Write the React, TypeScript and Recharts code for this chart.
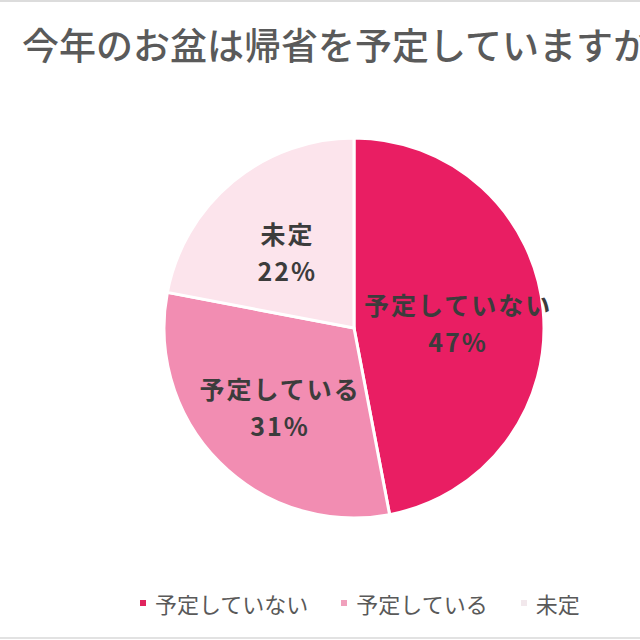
import React from 'react';
import { PieChart, Pie, Cell, Legend } from 'recharts';

const categories = ['予定していない', '予定している', '未定'];
const shares = [47, 31, 22];
const colors = ['#E91E63', '#F28DB2', '#FCE4EC'];
const legendColors = ['#E0245E', '#F0A0BC', '#F2E8EC'];

const title = '今年のお盆は帰省を予定していますか';

const data = categories.map((name, i) => ({ name, value: shares[i] }));

const FONT = '"Noto Sans CJK JP", "Noto Sans", sans-serif';
const RAD = Math.PI / 180;

function renderLabel(props: any) {
  const { cx, cy, midAngle, outerRadius, name, value } = props;
  const r = outerRadius * 0.55;
  const x = cx + r * Math.cos(-midAngle * RAD);
  const y = cy + r * Math.sin(-midAngle * RAD) + 4;
  return (
    <text
      x={x}
      y={y}
      textAnchor="middle"
      dominantBaseline="central"
      fill="#3C3C3C"
      fontSize={25}
      fontWeight="bold"
      letterSpacing={2}
      fontFamily={FONT}
    >
      <tspan x={x} y={y - 18}>{name}</tspan>
      <tspan x={x} y={y + 19}>{value}%</tspan>
    </text>
  );
}

function renderLegend() {
  return (
    <div
      style={{
        display: 'flex',
        alignItems: 'center',
        paddingLeft: 140,
        fontFamily: FONT,
        fontSize: 22,
        color: '#595959',
      }}
    >
      {categories.map((name, i) => (
        <div key={name} style={{ display: 'flex', alignItems: 'center', marginRight: 33 }}>
          <span
            style={{
              display: 'inline-block',
              width: 6,
              height: 6,
              background: legendColors[i],
              marginRight: 9,
            }}
          />
          <span>{name}</span>
        </div>
      ))}
    </div>
  );
}

export default function App() {
  return (
    <div
      style={{
        position: 'absolute',
        left: 0,
        top: 0,
        width: 640,
        height: 640,
        background: '#fff',
        overflow: 'hidden',
      }}
    >
      <div style={{ position: 'absolute', left: 0, top: 0, width: 640, height: 2, background: '#DCDCDC' }} />
      <div style={{ position: 'absolute', left: 0, top: 637, width: 640, height: 2, background: '#E2E2E2' }} />
      <div
        style={{
          position: 'absolute',
          left: 22,
          top: 26,
          whiteSpace: 'nowrap',
          fontFamily: FONT,
          fontSize: 37,
          fontWeight: 500,
          lineHeight: '37px',
          color: '#5A5A5A',
        }}
      >
        {title}
      </div>
      <PieChart width={640} height={640} style={{ position: 'absolute', left: 0, top: 0 }}>
        <Pie
          data={data}
          dataKey="value"
          nameKey="name"
          cx={349}
          cy={323}
          outerRadius={190}
          startAngle={90}
          endAngle={-270}
          stroke="#FFFFFF"
          strokeWidth={3}
          label={renderLabel}
          labelLine={false}
          isAnimationActive={false}
        >
          {data.map((d, i) => (
            <Cell key={d.name} fill={colors[i]} />
          ))}
        </Pie>
        <Legend
          content={renderLegend}
          wrapperStyle={{ position: 'absolute', left: 0, top: 587, width: 640 }}
        />
      </PieChart>
    </div>
  );
}
